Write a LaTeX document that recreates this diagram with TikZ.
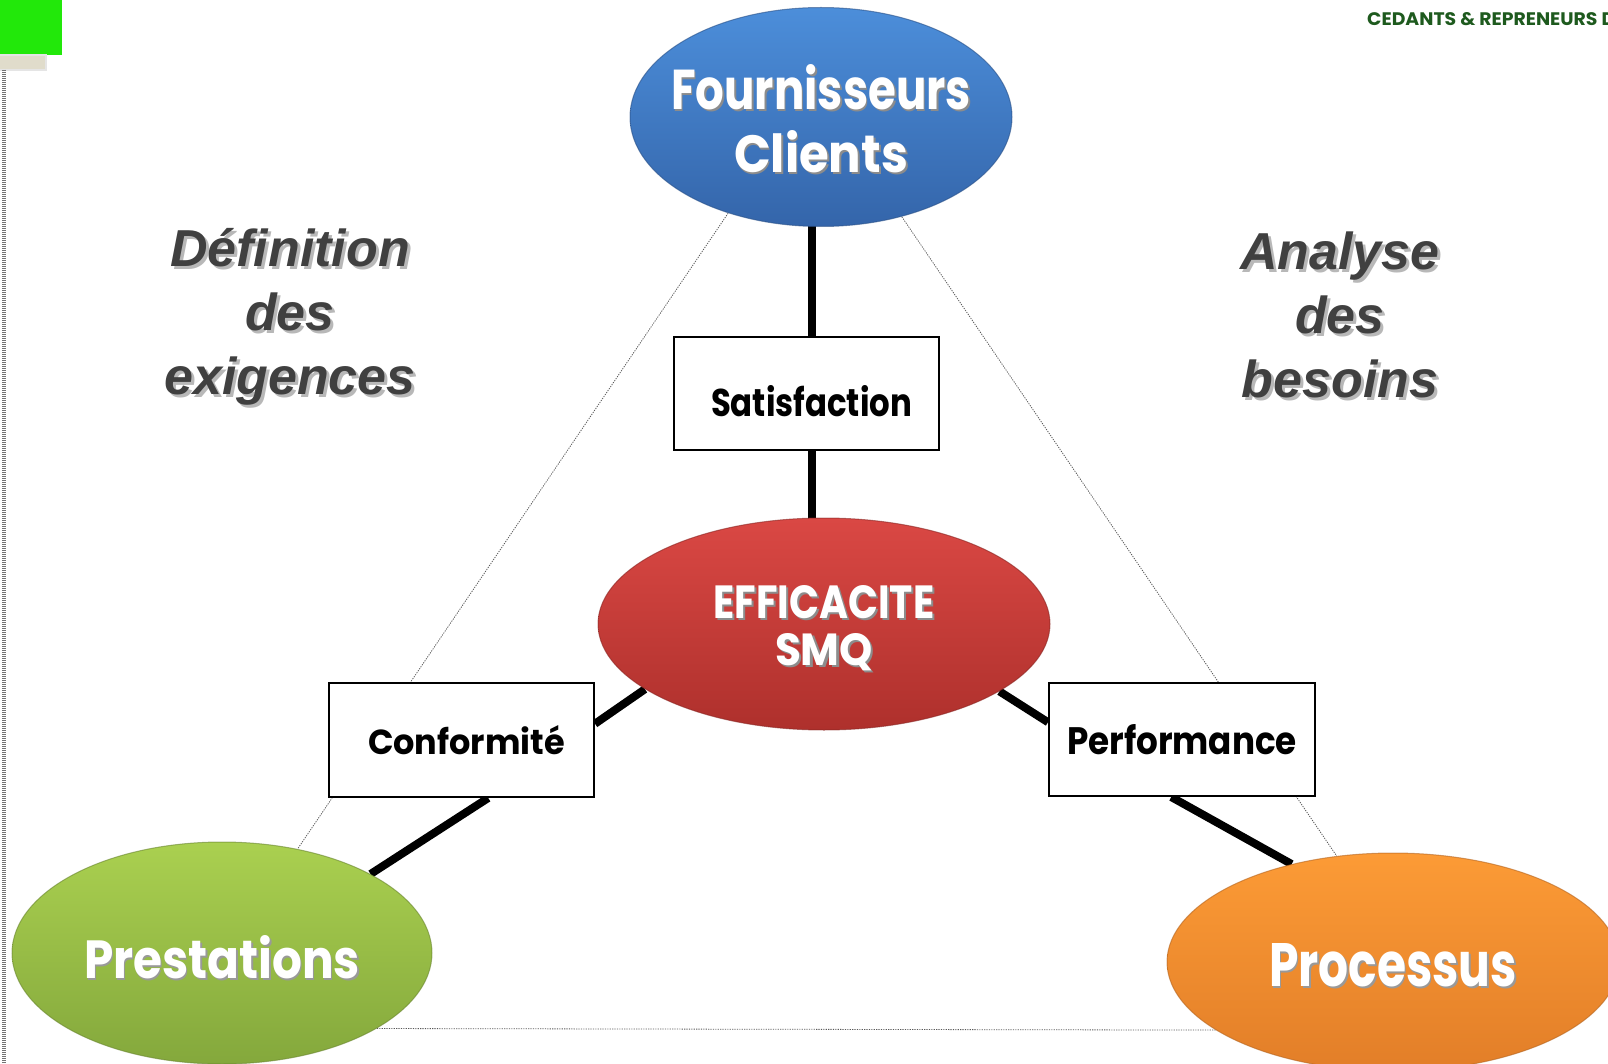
\documentclass[tikz,border=0pt]{standalone}
\usepackage{fontspec}
\setmainfont{Poppins}
\newfontfamily\lib{Liberation Sans}
\usepackage{graphicx}
\usetikzlibrary{shapes.geometric,backgrounds,calc}
\definecolor{bluT}{RGB}{76,142,218}
\definecolor{bluB}{RGB}{52,101,170}
\definecolor{redT}{RGB}{218,72,68}
\definecolor{redB}{RGB}{174,48,44}
\definecolor{grnT}{RGB}{170,208,80}
\definecolor{grnB}{RGB}{132,168,60}
\definecolor{orgT}{RGB}{252,155,54}
\definecolor{orgB}{RGB}{226,126,40}
\definecolor{flag}{RGB}{34,232,10}
\definecolor{beige}{RGB}{224,220,203}
\definecolor{dkgreen}{RGB}{30,90,30}
\definecolor{txtgray}{RGB}{64,64,64}
\newcommand\shd[3]{\makebox[0pt][l]{\kern#2\raisebox{-#2}{\textcolor{#1}{#3}}}#3}
\begin{document}
\begin{tikzpicture}[x=1pt,y=-1pt,
  ell/.style={ellipse, inner xsep=-40pt, inner ysep=0pt, text=white, align=center, font=\bfseries},
  lbox/.style={draw=black, line width=2pt, fill=white, inner sep=0pt, font=\bfseries\fontsize{36}{40}\selectfont},
  bar/.style={line width=8pt, black},
  tri/.style={draw=black!65, line width=0.8pt, dash pattern=on 1.2pt off 1.2pt},
  side/.style={text=txtgray, align=center, font=\lib\bfseries\itshape\fontsize{52}{64}\selectfont}]
\useasboundingbox (0,0) rectangle (1608,1064);
\clip (0,0) rectangle (1608,1064);
% decorations at the top-left corner and left border
\fill[flag] (0,0) rectangle (62,55);
\filldraw[fill=beige, draw=black!10, line width=2pt] (-2,55) rectangle (46,70);
\draw[black!55, line width=4pt, dash pattern=on 1pt off 1pt] (4,70) -- (4,1064);
% ellipses
\node[ell, top color=bluT, bottom color=bluB, draw=bluB!80!black, draw opacity=0.6, line width=1pt,
      minimum width=382pt, minimum height=219pt,
      font=\bfseries\fontsize{50}{63}\selectfont] (blue) at (821,117)
  {\rule{0pt}{51pt}\resizebox{300pt}{45pt}{\shd{black!45}{2pt}{Fournisseurs}}\\
   \resizebox{174pt}{42pt}{\shd{black!45}{2pt}{Clients}}};
\node[ell, top color=redT, bottom color=redB, draw=redB!80!black, draw opacity=0.6, line width=1pt,
      minimum width=452pt, minimum height=212pt,
      font=\bfseries\fontsize{40}{47}\selectfont] (red) at (824,624)
  {\rule{0pt}{43pt}\resizebox{221pt}{33pt}{\shd{black!45}{2pt}{EFFICACITE}}\\
   \resizebox{98pt}{32pt}{\shd{black!45}{2pt}{SMQ}}};
\node[ell, top color=grnT, bottom color=grnB, draw=grnB!80!black, draw opacity=0.6, line width=1pt,
      minimum width=420pt, minimum height=222pt,
      font=\bfseries\fontsize{58}{60}\selectfont] (green) at (222,953)
  {\raisebox{-4pt}[43pt][0pt]{\resizebox{276pt}{43pt}{\shd{black!40}{2pt}{Prestations}}}};
\node[ell, top color=orgT, bottom color=orgB, draw=orgB!80!black, draw opacity=0.6, line width=1pt,
      minimum width=452pt, minimum height=218pt,
      font=\bfseries\fontsize{58}{60}\selectfont] (orange) at (1393,962)
  {\raisebox{-3pt}[43pt][0pt]{\resizebox{248pt}{43pt}{\shd{black!40}{2pt}{Processus}}}};
% label boxes
\node[lbox, minimum width=265pt, minimum height=112pt] (sat) at (806.5,393.5)
  {\hspace*{10pt}\raisebox{-7pt}[31pt][0pt]{\resizebox{201pt}{31pt}{Satisfaction}}};
\node[lbox, minimum width=265pt, minimum height=114pt] (conf) at (461.5,740)
  {\hspace*{10pt}\resizebox{197pt}{29pt}{Conformité}};
\node[lbox, minimum width=266pt, minimum height=113pt] (perf) at (1182,739.5)
  {\resizebox{230pt}{30pt}{Performance}};
% side texts
\node[side] (defi) at (290,318)
  {\shd{black!28}{3pt}{Définition}\\ \shd{black!28}{3pt}{des}\\ \shd{black!28}{3pt}{exigences}};
\node[side] (anal) at (1340,316)
  {\shd{black!28}{3pt}{Analyse}\\ \shd{black!28}{3pt}{des}\\ \shd{black!28}{3pt}{besoins}};
\node[anchor=west, inner sep=0pt, text=dkgreen, font=\bfseries\fontsize{16}{18}\selectfont] (head) at (1367,19)
  {\resizebox{248pt}{13pt}{CEDANTS \& REPRENEURS D}};
% connectors
\begin{scope}[on background layer]
  \draw[tri] (blue.226) -- (green.54);
  \draw[tri] (blue.309) -- (orange.118);
  \draw[tri] (green.334) -- (orange.201);
  \draw[bar] ([xshift=5.5pt]sat.north) -- ([xshift=5.5pt]sat.north |- blue.center);
  \draw[bar] ([xshift=5.5pt]sat.south) -- ([xshift=5.5pt]sat.south |- red.center);
  \draw[bar] (red.200) -- ($(conf.north east)!0.36!(conf.south east)$);
  \draw[bar] ($(conf.south west)!0.6!(conf.south east)$) -- (green.28);
  \draw[bar] (red.-21) -- ($(perf.north west)!0.35!(perf.south west)$);
  \draw[bar] ($(perf.south west)!0.46!(perf.south east)$) -- (orange.136);
\end{scope}
\end{tikzpicture}
\end{document}
